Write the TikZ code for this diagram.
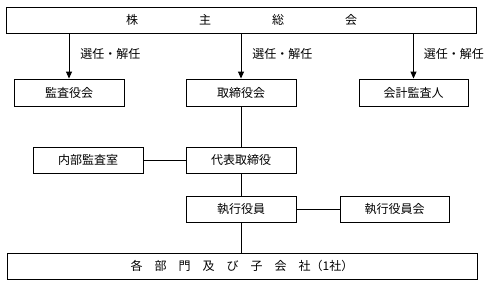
\documentclass[tikz,border=0pt]{standalone}
\usepackage{fontspec}
\setmainfont{Noto Sans CJK JP}
\usepackage{tikz}
\usetikzlibrary{arrows.meta,positioning}

\begin{document}
\begin{tikzpicture}[x=1pt,y=-1pt]
  \tikzset{
    box/.style={draw=black, fill=white, line width=0.9pt, inner sep=0pt, minimum width=110pt, minimum height=27pt, font=\fontsize{12}{14}\selectfont},
    wide/.style={box, minimum width=470pt, minimum height=26pt},
    link/.style={black, line width=0.9pt},
    arr/.style={link, -{Triangle[width=6pt,length=7pt]}},
    lbl/.style={font=\fontsize{12}{14}\selectfont, inner sep=0pt, anchor=west}
  }
  \useasboundingbox (0,0) rectangle (492,287);

  % Column positions
  \def\xL{69}
  \def\xM{241}
  \def\xR{413.5}

  % Shareholders meeting
  \node[wide] (sokai) at (241.5,20) {株\hspace{61pt}主\hspace{61pt}総\hspace{61pt}会};

  % Second row
  \node[box] (kansayaku) at (\xL,92.5) {監査役会};
  \node[box] (torishimari) at (\xM,92.5) {取締役会};
  \node[box, minimum width=109pt] (kaikei) at (\xR,92.5) {会計監査人};

  % Executive line
  \node[box, minimum height=26pt] (naibu) at (88,160) {内部監査室};
  \node[box, minimum height=26pt] (daihyo) at (\xM,160) {代表取締役};
  \node[box, minimum height=26pt] (shikko) at (\xM,209) {執行役員};
  \node[box, minimum height=26pt, minimum width=109pt] (shikkokai) at (394.5,209) {執行役員会};

  % Departments
  \node[wide] (bumon) at (242,266) {各　部　門　及　び　子　会　社（1社）};

  % Appointment arrows
  \draw[arr] (kansayaku.north |- sokai.south) -- node[lbl, xshift=11pt, yshift=2pt] {選任・解任} (kansayaku.north);
  \draw[arr] (torishimari.north |- sokai.south) -- node[lbl, xshift=11pt, yshift=2pt] {選任・解任} (torishimari.north);
  \draw[arr] (kaikei.north |- sokai.south) -- node[lbl, xshift=10pt, yshift=2pt] {選任・解任} (kaikei.north);

  % Plain links
  \draw[link] (torishimari.south) -- (daihyo.north);
  \draw[link] (naibu.east) -- (daihyo.west);
  \draw[link] (daihyo.south) -- (shikko.north);
  \draw[link] (shikko.east) -- (shikkokai.west);
  \draw[link] (shikko.south) -- (shikko.south |- bumon.north);

\end{tikzpicture}
\end{document}
